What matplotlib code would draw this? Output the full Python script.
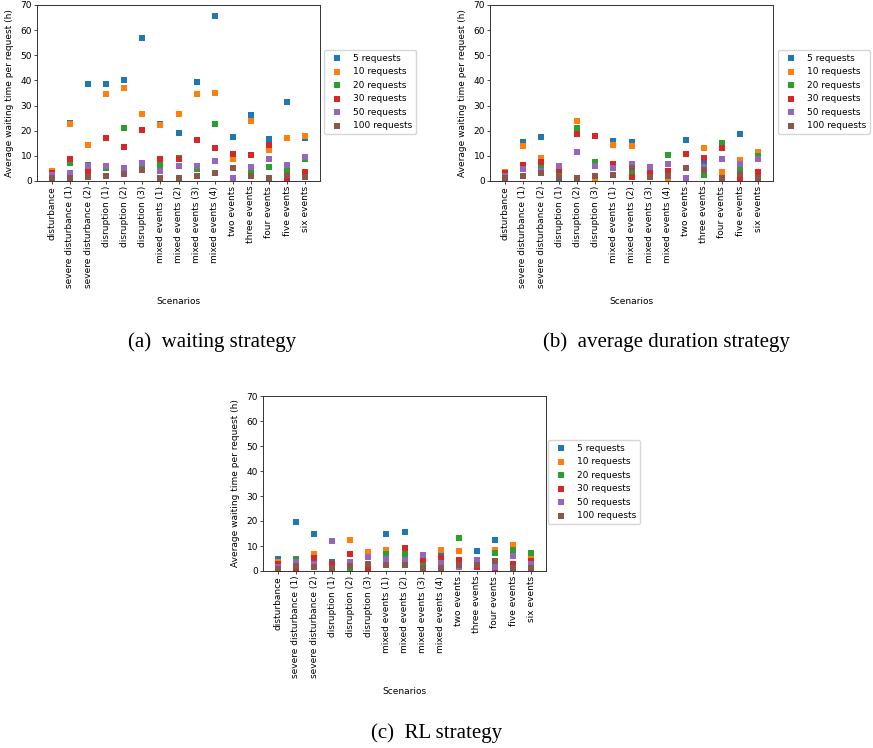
import matplotlib
matplotlib.use("Agg")
import matplotlib.pyplot as plt

scenarios = ["disturbance", "severe disturbance (1)", "severe disturbance (2)",
             "disruption (1)", "disruption (2)", "disruption (3)",
             "mixed events (1)", "mixed events (2)", "mixed events (3)", "mixed events (4)",
             "two events", "three events", "four events", "five events", "six events"]
series_labels = ["5 requests", "10 requests", "20 requests", "30 requests", "50 requests", "100 requests"]

# (a) waiting strategy
wait_5 = [3.5, 23.2, 38.6, 38.6, 40.3, 57.0, 22.6, 19.2, 39.2, 65.6, 17.5, 26.1, 16.7, 31.3, 17.2]
wait_10 = [3.9, 22.7, 14.4, 34.6, 37.0, 26.7, 22.3, 26.7, 34.6, 35.0, 8.8, 23.7, 12.2, 17.1, 18.0]
wait_20 = [2.0, 7.2, 6.3, 5.0, 21.2, 5.8, 6.5, 9.3, 4.8, 22.7, 5.0, 4.2, 5.7, 4.2, 8.9]
wait_30 = [3.2, 8.8, 3.9, 17.2, 13.6, 20.4, 8.8, 8.8, 16.4, 13.3, 10.7, 10.3, 14.3, 0.8, 3.6]
wait_50 = [2.3, 3.3, 6.1, 6.1, 5.3, 7.2, 4.1, 6.1, 6.1, 8.0, 1.2, 5.4, 8.9, 6.5, 9.5]
wait_100 = [1.2, 1.2, 1.5, 2.1, 2.9, 4.5, 1.1, 1.3, 2.1, 3.3, 5.3, 1.8, 1.2, 2.4, 1.5]

# (b) average duration strategy
avg_5 = [3.3, 15.4, 17.6, 1.0, 1.0, 1.5, 16.0, 15.6, 1.5, 2.1, 16.4, 8.0, 1.8, 18.8, 10.6]
avg_10 = [3.6, 13.8, 9.1, 2.0, 24.0, 0.5, 14.4, 14.0, 1.5, 0.4, 5.3, 13.2, 3.7, 8.4, 11.4]
avg_20 = [2.4, 5.8, 6.5, 3.1, 21.2, 7.7, 5.0, 3.6, 3.2, 10.5, 5.3, 2.4, 15.0, 4.4, 10.0]
avg_30 = [3.0, 6.4, 7.4, 4.4, 18.8, 17.9, 6.9, 1.7, 4.0, 4.0, 10.9, 9.1, 13.2, 1.1, 3.6]
avg_50 = [2.0, 4.9, 4.0, 6.1, 11.7, 5.8, 5.0, 6.6, 5.7, 6.9, 1.3, 5.6, 8.9, 6.6, 8.9]
avg_100 = [1.2, 2.1, 3.3, 1.5, 1.1, 2.1, 2.5, 5.2, 1.5, 2.1, 5.3, 4.4, 1.3, 2.6, 1.3]

# (c) RL strategy
rl_5 = [4.7, 19.6, 14.9, 3.7, 2.0, 2.5, 14.9, 15.6, 3.2, 6.7, 2.0, 8.1, 12.5, 6.0, 4.5]
rl_10 = [3.5, 3.0, 6.9, 2.0, 12.5, 7.7, 8.5, 9.0, 2.0, 8.5, 8.1, 2.4, 8.5, 10.3, 5.6]
rl_20 = [2.2, 4.9, 3.0, 1.3, 0.5, 2.5, 6.7, 6.9, 2.1, 1.5, 13.3, 2.4, 7.3, 8.3, 7.3]
rl_30 = [2.7, 0.4, 5.3, 2.7, 6.9, 1.1, 4.5, 9.2, 4.3, 5.3, 4.3, 1.7, 0.3, 2.9, 3.9]
rl_50 = [1.6, 3.5, 2.9, 12.1, 3.5, 5.6, 4.8, 4.3, 6.3, 3.1, 1.6, 4.5, 1.6, 6.1, 2.7]
rl_100 = [0.8, 2.1, 1.6, 1.1, 2.1, 2.7, 2.3, 2.4, 1.3, 1.1, 2.3, 2.4, 4.0, 1.1, 1.2]

colors = ["#1f77b4", "#ff7f0e", "#2ca02c", "#d62728", "#9467bd", "#8c564b"]

W, H = 873, 748
fig = plt.figure(figsize=(W / 100, H / 100), dpi=100)

FS = 6.5

def make_panel(rect_px, data, legend_px, caption, cap_px, ylab_x, xlab_top):
    l, t, r, b = rect_px
    ax = fig.add_axes([l / W, 1 - b / H, (r - l) / W, (b - t) / H])
    x = list(range(len(scenarios)))
    for vals, c, lab in zip(data, colors, series_labels):
        ax.scatter(x, vals, s=20, marker="s", color=c, label=lab, linewidths=0)
    ax.set_ylim(0, 70)
    ax.set_yticks(range(0, 71, 10))
    ax.set_xlim(-0.82, 14.82)
    ax.set_xticks(x)
    ax.set_xticklabels(scenarios, rotation=90, fontsize=FS)
    ax.tick_params(axis="y", labelsize=FS)
    ax.tick_params(length=2, width=0.5, pad=1.5)
    for sp in ax.spines.values():
        sp.set_linewidth(0.7)
        sp.set_color("#333333")
    ax.set_ylabel("Average waiting time per request (h)", fontsize=FS)
    ax.yaxis.set_label_coords((ylab_x - l) / (r - l), 0.5)
    ax.set_xlabel("Scenarios", fontsize=FS)
    ax.xaxis.set_label_coords(0.5, -(xlab_top - b) / (b - t))
    lx, ly = legend_px
    ax.legend(loc="upper left", bbox_to_anchor=(lx / W, 1 - ly / H),
              bbox_transform=fig.transFigure, fontsize=FS, scatterpoints=1,
              frameon=True, borderaxespad=0)
    fig.text(cap_px[0] / W, 1 - cap_px[1] / H, caption, ha="center", va="center",
             fontsize=15, family="Liberation Serif")
    return ax

make_panel((37, 5, 320, 181), [wait_5, wait_10, wait_20, wait_30, wait_50, wait_100],
           (324, 50), "(a)  waiting strategy", (212, 342), 14, 297)
make_panel((490, 5, 773, 181), [avg_5, avg_10, avg_20, avg_30, avg_50, avg_100],
           (778, 50), "(b)  average duration strategy", (666, 342), 467, 297)
make_panel((263, 396, 546, 571), [rl_5, rl_10, rl_20, rl_30, rl_50, rl_100],
           (548, 440), "(c)  RL strategy", (437, 733), 240, 687)

fig.savefig("out.png", dpi=100)
